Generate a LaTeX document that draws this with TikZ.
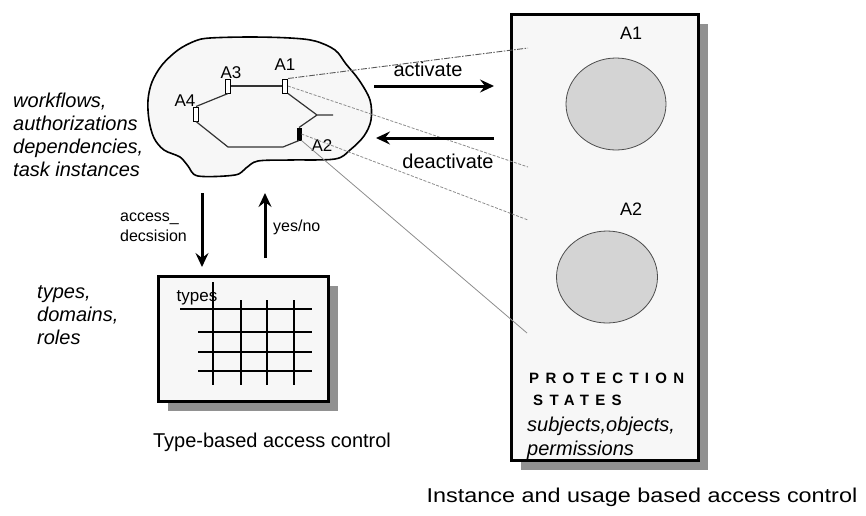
\documentclass[tikz,border=0pt]{standalone}
\usepackage{fontspec}
\setmainfont{Liberation Sans}
\usetikzlibrary{positioning,arrows.meta,shapes.geometric,shadows}

\definecolor{paper}{gray}{0.97}
\definecolor{shade}{gray}{0.57}
\definecolor{disc}{gray}{0.83}

\tikzstyle{sheet} = [rectangle, draw=black, line width=3pt, fill=paper, inner sep=0pt,
drop shadow={shadow xshift=9pt, shadow yshift=-9pt, fill=shade, opacity=1}]
\tikzstyle{disk} = [ellipse, draw=black!70, line width=0.8pt, fill=disc, inner sep=0pt]
\tikzstyle{cloudline} = [draw=black, line width=1.6pt, fill=paper]
\tikzstyle{marker} = [rectangle, draw=black, line width=1pt, fill=white, minimum width=5pt, minimum height=14pt, inner sep=0pt]
\tikzstyle{markerfull} = [marker, fill=black, minimum width=4pt, minimum height=12pt]
\tikzstyle{flow} = [line width=1.2pt, black!80]
\tikzstyle{gridline} = [line width=1.6pt, black]
\tikzstyle{fatarrow} = [line width=3pt, -{Stealth[length=14pt, width=13pt, inset=5pt]}]
\tikzstyle{linkdotted} = [black!65, line width=0.9pt, dash pattern=on 6pt off 1.5pt on 1.5pt off 1.5pt]
\tikzstyle{linkdashed} = [black!45, line width=0.8pt, dash pattern=on 3pt off 1.5pt]
\tikzstyle{linksolid} = [black!45, line width=0.8pt]
\tikzstyle{caption} = [font=\fontsize{20}{23}\selectfont, inner sep=0pt]
\tikzstyle{note} = [font=\fontsize{20}{23}\selectfont\itshape, align=left, inner sep=0pt]
\tikzstyle{small} = [font=\fontsize{16}{20}\selectfont, align=left, inner sep=0pt]
\tikzstyle{spaced} = [font=\fontsize{15}{22}\selectfont\bfseries\addfontfeature{LetterSpace=42}, align=left, inner sep=0pt]

\begin{document}
\begin{tikzpicture}[x=1pt, y=-1pt]
			\useasboundingbox (0,0) rectangle (866,515);
			
			\draw [cloudline] plot [smooth cycle, tension=0.55] coordinates {(210,38) (250,37) (290,38) (315,41) (335,50) (346,64) (359,80) (370,100) (371,120) (364,136) (350,150) (335,159) (290,160) (258,161) (246,168) (235,175) (198,176) (188,166) (180,157) (164,150) (154,138) (149,120) (148,100) (152,82) (162,65) (178,50) (195,41)};
			
			\node (a1) [marker] at (285,86) {};
			\node (a3) [marker] at (228,86) {};
			\node (a4) [marker] at (196,114) {};
			\node (a2) [markerfull] at (299,134) {};
			\node (a1Label) [small, font=\fontsize{17}{20}\selectfont] at (285,65) {A1};
			\node (a3Label) [small, font=\fontsize{17}{20}\selectfont] at (231,73) {A3};
			\node (a4Label) [small, font=\fontsize{17}{20}\selectfont] at (185,101) {A4};
			\node (a2Label) [small, font=\fontsize{17}{20}\selectfont] at (322,146) {A2};
			\coordinate (bendLeft) at (228,147);
			\coordinate (bendRight) at (283,147);
			\coordinate (fork) at (317,115);
			\coordinate (forkEnd) at (333,115);
			
			\node (stateBox) [sheet, minimum width=187pt, minimum height=446pt] at (605,237.5) {};
			\node (typeBox) [sheet, minimum width=170pt, minimum height=125pt] at (243.5,339) {};
			
			\node (discA) [disk, minimum width=100pt, minimum height=92pt] at (616,104) {};
			\node (discB) [disk, minimum width=101pt, minimum height=92pt] at (607,277) {};
			\node (discALabel) [small, font=\fontsize{18}{20}\selectfont] at (631,33) {A1};
			\node (discBLabel) [small, font=\fontsize{18}{20}\selectfont] at (631,209) {A2};
			\node (protLabel) [spaced, anchor=north west] at (529,373) {PROTECTION\\\hspace{4pt}STATES};
			\node (stateItems) [note, font=\fontsize{20}{24}\selectfont\itshape, anchor=north west] at (527,417) {subjects,objects,\\permissions};
			
			\draw [gridline] (213,282) -- (213,385);
			\foreach \gx in {241,267,294} \draw [gridline] (\gx,300) -- (\gx,385);
			\draw [gridline] (180,309) -- (312,309);
			\foreach \gy in {332,352,371} \draw [gridline] (198,\gy) -- (312,\gy);
			\node (typesLabel) [small, font=\fontsize{17}{20}\selectfont] at (197,298) {types};
			
			\coordinate (endDotted) at (528,48);
			\coordinate (endDashedA) at (528,167);
			\coordinate (endDashedB) at (528,220);
			\coordinate (endSolid) at (527,333);
			\coordinate (actFrom) at (374,86);
			\coordinate (actTo) at (494,86);
			\coordinate (deactFrom) at (494,138);
			\coordinate (deactTo) at (376,138);
			\coordinate (askFrom) at (202,193);
			\coordinate (askTo) at (202,267);
			\coordinate (replyFrom) at (265,258);
			\coordinate (replyTo) at (265,193);
			
			\draw [flow] (a3) -- (a1);
			\draw [flow] (a4.north) -- (a3.south);
			\draw [flow] (a4.south) -- (bendLeft) -- (bendRight) -- (a2.south);
			\draw [flow] (a1.south east) -- (fork) -- (forkEnd);
			\draw [flow] (fork) -- (a2.north);
			
			\draw [linkdotted] (a1.north east) -- (endDotted);
			\draw [linkdashed] (a1.east) -- (endDashedA);
			\draw [linkdashed] (a2.east) -- (endDashedB);
			\draw [linksolid] (a2.south east) -- (endSolid);
			
			\draw [fatarrow] (actFrom) -- (actTo);
			\draw [fatarrow] (deactFrom) -- (deactTo);
			\draw [fatarrow] (askFrom) -- (askTo);
			\draw [fatarrow] (replyFrom) -- (replyTo);
			\node (actLabel) [caption] at (428,69) {activate};
			\node (deactLabel) [caption] at (448,161) {deactivate};
			\node (askLabel) [small, anchor=west] at (120,227) {access\_\\decsision};
			\node (replyLabel) [small, anchor=west] at (273,227) {yes/no};
			
			\node (instanceNote) [note, anchor=west] at (13,135) {workflows,\\authorizations\\dependencies,\\task instances};
			\node (typeNote) [note, anchor=west] at (37,315) {types,\\domains,\\roles};
			\node (typeCaption) [caption] at (272,442) {Type-based access control};
			\node (stateCaption) [caption, xscale=1.17, transform shape] at (642,497) {Instance and usage based access control};
			
		\end{tikzpicture}
\end{document}
